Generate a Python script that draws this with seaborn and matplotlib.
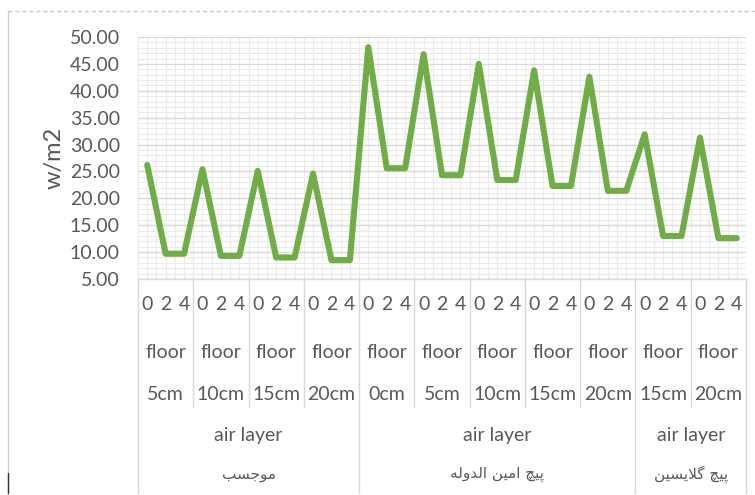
import numpy as np
import pandas as pd
import matplotlib
matplotlib.use("Agg")
import matplotlib.pyplot as plt
from matplotlib.transforms import blended_transform_factory
from matplotlib.ticker import MultipleLocator
import seaborn as sns

# ---- data -------------------------------------------------------------
times = ["0", "2", "4"]
floor_sizes = ["5cm", "10cm", "15cm", "20cm",
               "0cm", "5cm", "10cm", "15cm", "20cm",
               "15cm", "20cm"]
plants = ["موجسب", "پیچ امین الدوله", "پیچ گلایسین"]
plant_group_counts = [4, 5, 2]
values = [
    26.2, 9.7, 9.7,
    25.4, 9.3, 9.3,
    25.1, 9.0, 9.0,
    24.6, 8.5, 8.5,
    48.1, 25.6, 25.6,
    46.8, 24.3, 24.3,
    45.0, 23.4, 23.4,
    43.8, 22.3, 22.3,
    42.6, 21.4, 21.4,
    31.9, 13.0, 13.0,
    31.3, 12.6, 12.6,
]
y_ticks = [5, 10, 15, 20, 25, 30, 35, 40, 45, 50]

# ---- simple Arabic-script shaping (matplotlib has no bidi/joining) ----
FORMS = {
    "ا": (0xFE8D, 0xFE8E),
    "ب": (0xFE8F, 0xFE90, 0xFE91, 0xFE92),
    "پ": (0xFB56, 0xFB57, 0xFB58, 0xFB59),
    "ج": (0xFE9D, 0xFE9E, 0xFE9F, 0xFEA0),
    "چ": (0xFB7A, 0xFB7B, 0xFB7C, 0xFB7D),
    "د": (0xFEA9, 0xFEAA),
    "س": (0xFEB1, 0xFEB2, 0xFEB3, 0xFEB4),
    "گ": (0xFB92, 0xFB93, 0xFB94, 0xFB95),
    "ل": (0xFEDD, 0xFEDE, 0xFEDF, 0xFEE0),
    "م": (0xFEE1, 0xFEE2, 0xFEE3, 0xFEE4),
    "ن": (0xFEE5, 0xFEE6, 0xFEE7, 0xFEE8),
    "ه": (0xFEE9, 0xFEEA, 0xFEEB, 0xFEEC),
    "و": (0xFEED, 0xFEEE),
    "ی": (0xFBFC, 0xFBFD, 0xFBFE, 0xFBFF),
    "LA": (0xFEFB, 0xFEFC),
}


def shape_word(word):
    letters = []
    i = 0
    while i < len(word):
        if word[i] == "ل" and i + 1 < len(word) and word[i + 1] == "ا":
            letters.append("LA")
            i += 2
        else:
            letters.append(word[i])
            i += 1
    out = []
    for k, ch in enumerate(letters):
        f = FORMS[ch]
        prev_joins = k > 0 and len(FORMS[letters[k - 1]]) == 4
        next_joins = k < len(letters) - 1 and len(f) == 4
        if prev_joins and next_joins:
            code = f[3]
        elif prev_joins:
            code = f[1]
        elif next_joins:
            code = f[2]
        else:
            code = f[0]
        out.append(chr(code))
    return "".join(reversed(out))


def shape(text):
    return " ".join(shape_word(w) for w in reversed(text.split(" ")))


# ---- style --------------------------------------------------------------
sns.set_theme(style="white")
plt.rcParams["font.family"] = ["Lato", "DejaVu Sans"]
TEXT = "#595959"
RULE = "#d9d9d9"
GREEN = "#70ad47"
FS = 14

W, H = 755, 495
fig = plt.figure(figsize=(W / 100, H / 100), dpi=100)
fig.patch.set_facecolor("white")

left_px, right_px, top_px, bottom_px = 138, 746, 37, 279
ax = fig.add_axes([left_px / W, 1 - bottom_px / H,
                   (right_px - left_px) / W, (bottom_px - top_px) / H])

df = pd.DataFrame({"pos": np.arange(len(values)), "value": values})
sns.lineplot(data=df, x="pos", y="value", ax=ax, color=GREEN,
             linewidth=4.4, solid_joinstyle="round", solid_capstyle="round",
             zorder=5)

n = len(values)
ax.set_xlim(-0.5, n - 0.5)
ax.set_ylim(y_ticks[0], y_ticks[-1])

# grid: major every 5 units, minor every unit; vertical lines every half step
ax.set_yticks(y_ticks)
ax.set_yticklabels([f"{v:.2f}" for v in y_ticks], fontsize=FS, color=TEXT)
ax.yaxis.set_minor_locator(MultipleLocator(1))
ax.xaxis.set_major_locator(MultipleLocator(0.5))
ax.set_xticklabels([])
ax.grid(which="major", axis="y", color=RULE, linewidth=1.0)
ax.grid(which="minor", axis="y", color="#ebebeb", linewidth=0.8)
ax.grid(which="major", axis="x", color="#ebebeb", linewidth=0.8)
ax.set_axisbelow(True)
ax.tick_params(axis="both", which="both", length=0)
ax.tick_params(axis="y", pad=13)
ax.set_xlabel("")
ax.set_ylabel("")
for s in ["top", "left", "right"]:
    ax.spines[s].set_visible(False)
ax.spines["bottom"].set_color(RULE)
ax.spines["bottom"].set_linewidth(1.0)

fig.text(54 / W, 1 - 158 / H, "w/m2", rotation=90, ha="center",
         va="center", fontsize=17, color=TEXT)

# ---- category table under the axis -------------------------------------
tr = blended_transform_factory(ax.transData, fig.transFigure)


def fy(px):
    return 1 - px / H


for g, size in enumerate(floor_sizes):
    for j, t in enumerate(times):
        ax.text(3 * g + j, fy(305), t, transform=tr, ha="center",
                va="center", fontsize=FS, color=TEXT)
    ax.text(3 * g + 1, fy(352), "floor", transform=tr, ha="center",
            va="center", fontsize=FS, color=TEXT)
    ax.text(3 * g + 1, fy(394), size, transform=tr, ha="center",
            va="center", fontsize=FS, color=TEXT)

outer = set(np.cumsum([0] + plant_group_counts))
for g in range(len(floor_sizes) + 1):
    x = 3 * g - 0.5
    y_end = 493 if g in outer else 407
    ax.plot([x, x], [fy(bottom_px), fy(y_end)], transform=tr, color=RULE,
            linewidth=1.0, clip_on=False)

start = 0
for name, cnt in zip(plants, plant_group_counts):
    mid = (3 * start - 0.5 + 3 * (start + cnt) - 0.5) / 2
    ax.text(mid, fy(436), "air layer", transform=tr, ha="center",
            va="center", fontsize=FS, color=TEXT)
    ax.text(mid, fy(474), shape(name), transform=tr, ha="center",
            va="center", fontsize=11, color=TEXT,
            family=["DejaVu Sans"])
    start += cnt

# ---- outer frame ------------------------------------------------------
fig.add_artist(plt.Line2D([8 / W, 8 / W], [fy(11), 0], color="#cfcfcf",
                          linewidth=1.0))
fig.add_artist(plt.Line2D([8 / W, 1], [fy(11), fy(11)], color="#c8c8c8",
                          linewidth=1.0, linestyle=(0, (3, 2))))
fig.add_artist(plt.Line2D([8 / W, 8 / W], [fy(473), fy(493)],
                          color="#333333", linewidth=1.0))

fig.savefig("out.png", dpi=100, facecolor="white")
